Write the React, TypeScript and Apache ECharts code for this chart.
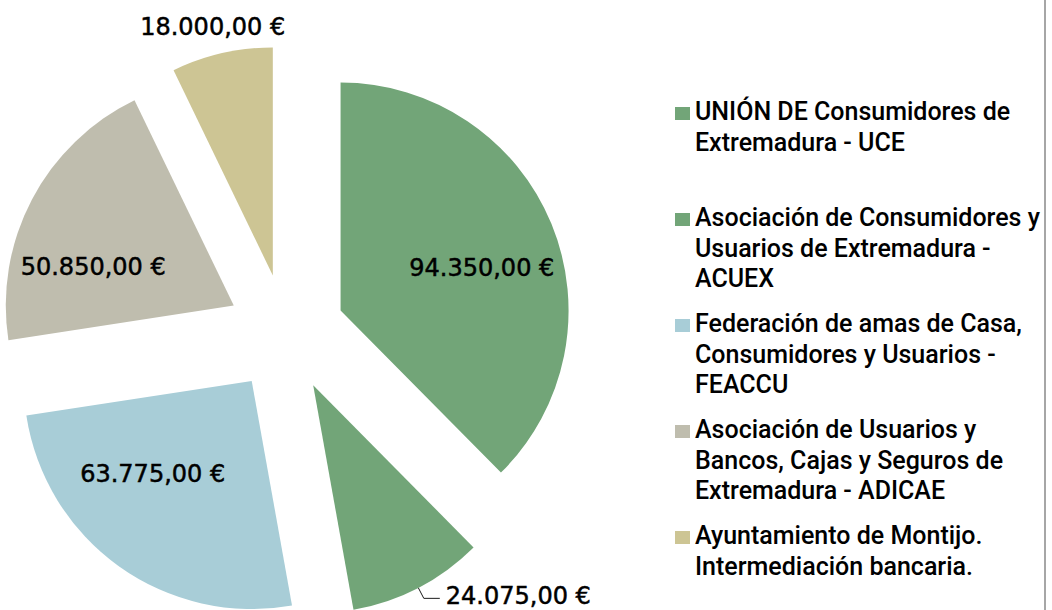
import React, { useEffect, useRef } from "react";
import * as echarts from "echarts";

// ---- data ----
const categories = [
  "UNIÓN DE Consumidores de Extremadura - UCE",
  "Asociación de Consumidores y Usuarios de Extremadura - ACUEX",
  "Federación de amas de Casa, Consumidores y Usuarios - FEACCU",
  "Asociación de Usuarios y Bancos, Cajas y Seguros de Extremadura - ADICAE",
  "Ayuntamiento de Montijo. Intermediación bancaria.",
];
const amounts = [94350, 24075, 63775, 50850, 18000];
const legendLines = [
  "UNIÓN DE Consumidores de\nExtremadura - UCE\n",
  "Asociación de Consumidores y\nUsuarios de Extremadura -\nACUEX",
  "Federación de amas de Casa,\nConsumidores y Usuarios -\nFEACCU",
  "Asociación de Usuarios y\nBancos, Cajas y Seguros de\nExtremadura - ADICAE",
  "Ayuntamiento de Montijo.\nIntermediación bancaria.\n",
];

// ---- styling ----
const sliceColors = ["#72a578", "#72a578", "#a8cdd7", "#bfbdae", "#cdc594"];
const labelPlacement = ["inside", "outside", "inside", "inside", "outside"];
const labelNudge: [number, number][] = [
  [33, 2],
  [1, -2],
  [-31, -2],
  [-37, 16],
  [87, -15],
];

function euro(v: number): string {
  const s = Math.round(v).toString();
  const grouped = s.replace(/\B(?=(\d{3})+(?!\d))/g, ".");
  return grouped + ",00 €";
}

export default function App() {
  const ref = useRef<HTMLDivElement>(null);

  useEffect(() => {
    document.body.style.margin = "0";
    if (!ref.current) return;
    const chart = echarts.init(ref.current, undefined, { renderer: "svg" });

    const data = categories.map((name, i) => ({
      name,
      value: amounts[i],
      selected: true,
      itemStyle: { color: sliceColors[i] },
      label: {
        position: labelPlacement[i],
      },
      labelLine: {
        show: i === 1,
        length: 12,
        length2: 16,
        smooth: false,
        lineStyle: { color: "#1a1a1a", width: 1 },
      },
    }));

    chart.setOption({
      animation: false,
      backgroundColor: "#ffffff",
      legend: {
        orient: "vertical",
        left: 675,
        top: 96.4,
        height: 580,
        padding: 0,
        itemGap: 14.5,
        itemWidth: 15,
        itemHeight: 91.5,
        icon: "path://M0 0 M0 10.6 L15 10.6 L15 23.6 L0 23.6 Z M15 91.5",
        selectedMode: false,
        itemStyle: { borderWidth: 0 },
        textStyle: {
          fontFamily: "Roboto",
          fontWeight: 500,
          fontSize: 25,
          lineHeight: 30.5,
          color: "#000000",
        },
        formatter: (name: string) => legendLines[categories.indexOf(name)],
        data: categories,
      },
      graphic: [
        {
          type: "line",
          shape: { x1: 1045, y1: 0, x2: 1045, y2: 610 },
          style: { stroke: "#a6a6a6", lineWidth: 2 },
          silent: true,
        },
      ],
      series: [
        {
          type: "pie",
          center: [286, 333],
          radius: [0, 228],
          startAngle: 90,
          clockwise: true,
          selectedMode: "multiple",
          selectedOffset: 59,
          avoidLabelOverlap: false,
          itemStyle: { borderWidth: 0 },
          emphasis: { disabled: true },
          label: {
            show: true,
            fontFamily: "DejaVu Sans",
            fontSize: 24,
            color: "#000000",
            textBorderColor: "#000000",
            textBorderWidth: 0.5,
            formatter: (p: any) => euro(p.value),
          },
          labelLayout: (p: any) => {
            const n = labelNudge[p.dataIndex];
            return { dx: n[0], dy: n[1] };
          },
          data,
        },
      ],
    });

    return () => chart.dispose();
  }, []);

  return <div ref={ref} style={{ width: 1052, height: 610 }} />;
}
